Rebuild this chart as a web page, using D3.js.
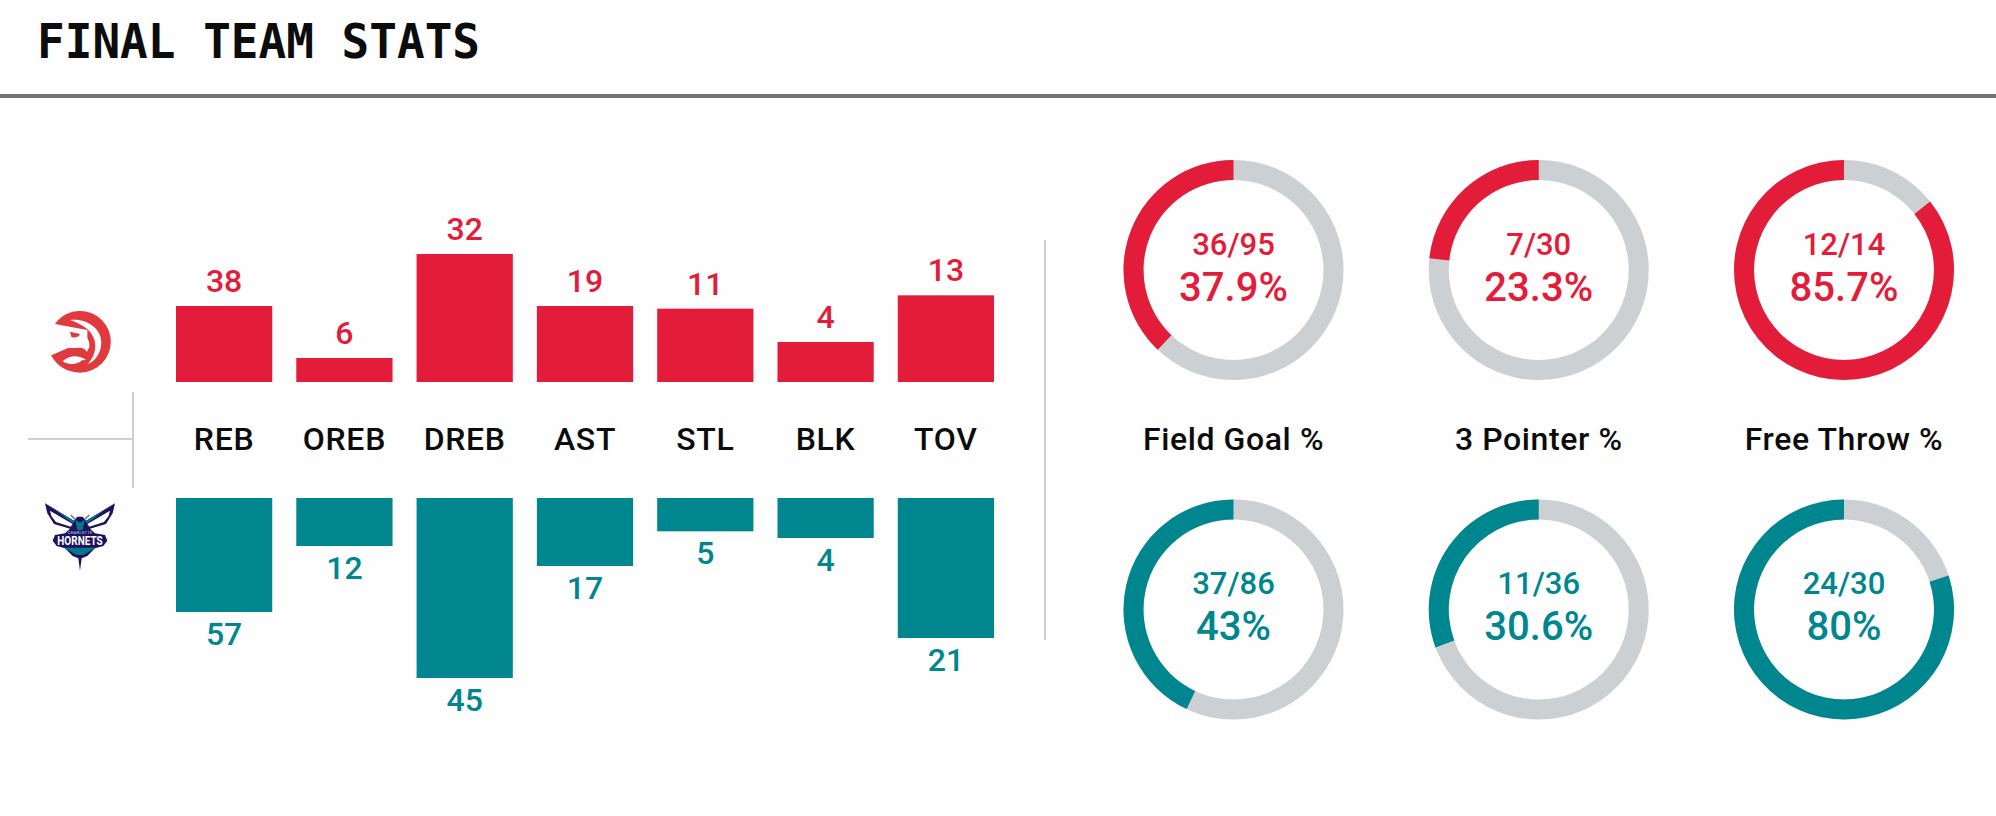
<!DOCTYPE html>
<html><head><meta charset="utf-8">
<script src="https://cdn.jsdelivr.net/npm/d3@7"></script>
<style>
html,body{margin:0;padding:0;background:#fefefe;overflow:hidden}
text{font-family:Roboto,sans-serif;font-weight:500}
</style></head><body>
<svg id="c" width="1996" height="816"></svg>
<script>
const titleText = "FINAL TEAM STATS";
const stats = ["REB","OREB","DREB","AST","STL","BLK","TOV"];
const statMax = [100,50,50,50,30,20,30];
const hawksStats = [38,6,32,19,11,4,13];
const hornetsStats = [57,12,45,17,5,4,21];
const shootingNames = ["Field Goal %","3 Pointer %","Free Throw %"];
const hawksMade = [36,7,12];
const hawksAttempts = [95,30,14];
const hawksPct = [37.9,23.3,85.7];
const hornetsMade = [37,11,24];
const hornetsAttempts = [86,36,30];
const hornetsPct = [43,30.6,80];

const RED="#e31c3a", TEAL="#00868f", GREY="#cdd0d3", INK="#0c0c0c";
const svg=d3.select("#c");

// header
svg.append("text").text(titleText)
  .attr("transform","translate(37,58) scale(1,1.05)")
  .attr("fill",INK)
  .style("font-family","'DejaVu Sans Mono'").style("font-weight",700)
  .style("font-size","46px");
svg.append("rect").attr("x",0).attr("y",94).attr("width",1996).attr("height",4).attr("fill","#66757d");

// bars
const x=d3.scaleBand().domain(stats).range([176,994]).paddingInner(0.2).paddingOuter(0);
const hawksBase=382, hornetsBase=498;
const h=i=>d3.scaleLinear().domain([0,statMax[i]]).range([0,200]);

const upper=svg.append("g");
upper.selectAll("rect").data(hawksStats).join("rect")
  .attr("x",(d,i)=>x(stats[i])).attr("width",x.bandwidth())
  .attr("y",(d,i)=>hawksBase-h(i)(d)).attr("height",(d,i)=>h(i)(d)).attr("fill",RED);
upper.selectAll("text").data(hawksStats).join("text")
  .text(d=>d).attr("text-anchor","middle").attr("fill",RED).style("font-size","32px")
  .attr("x",(d,i)=>x(stats[i])+x.bandwidth()/2).attr("y",(d,i)=>hawksBase-h(i)(d)-14);

const lower=svg.append("g");
lower.selectAll("rect").data(hornetsStats).join("rect")
  .attr("x",(d,i)=>x(stats[i])).attr("width",x.bandwidth())
  .attr("y",hornetsBase).attr("height",(d,i)=>h(i)(d)).attr("fill",TEAL);
lower.selectAll("text").data(hornetsStats).join("text")
  .text(d=>d).attr("text-anchor","middle").attr("fill",TEAL).style("font-size","32px")
  .attr("x",(d,i)=>x(stats[i])+x.bandwidth()/2).attr("y",(d,i)=>hornetsBase+h(i)(d)+33);

svg.append("g").selectAll("text").data(stats).join("text")
  .text(d=>d).attr("text-anchor","middle").attr("fill",INK).style("font-size","32px").style("letter-spacing","0.7px")
  .attr("x",d=>x(d)+x.bandwidth()/2).attr("y",450);

// dividers
const rule=(a,b,c,d)=>svg.append("rect").attr("x",a).attr("y",b).attr("width",c).attr("height",d).attr("fill",GREY);
rule(28,438,104,2);
rule(132,392,2,96);
rule(1044,240,2,400);

// donuts
const cx=d3.scalePoint().domain(shootingNames).range([1233.5,1844]);
const ang=d3.scaleLinear().domain([0,100]).range([0,-2*Math.PI]);
const arc=d3.arc().innerRadius(90).outerRadius(110).startAngle(0);
function donuts(cy,pct,made,att,col){
  const g=svg.append("g");
  pct.forEach((p,i)=>{
    const n=shootingNames[i];
    const d=g.append("g").attr("transform",`translate(${cx(n)},${cy})`);
    d.append("path").attr("d",arc({endAngle:-2*Math.PI})).attr("fill",GREY);
    d.append("path").attr("d",arc({endAngle:ang(p)})).attr("fill",col);
    d.append("text").text(made[i]+"/"+att[i]).attr("text-anchor","middle").attr("y",-15.5).attr("fill",col).style("font-size","31px");
    d.append("text").text(p+"%").attr("text-anchor","middle").attr("y",30.5).attr("fill",col).style("font-size","40px");
  });
}
donuts(270,hawksPct,hawksMade,hawksAttempts,RED);
donuts(609.5,hornetsPct,hornetsMade,hornetsAttempts,TEAL);
svg.append("g").selectAll("text").data(shootingNames).join("text")
  .text(d=>d).attr("text-anchor","middle").attr("fill",INK).style("font-size","32px").style("letter-spacing","0.6px")
  .attr("x",d=>cx(d)).attr("y",450);

// Hawks logo
const hk=svg.append("g").attr("transform","translate(0,250) scale(0.3333)");
const HK="#e03a3e", BG="#fefefe";
hk.append("path").attr("fill",HK).attr("d","M165,222 C182,197 210,183 240,183 A92.5,92.5 0 1 1 240,368 C203,368 170,348 153,316 L205,293 L262,292 L262,240 Z");
hk.append("path").attr("fill",BG).attr("d","M210,210 C262,204 304,238 304,276 C304,310 285,334 262,343 C280,325 290,300 284,272 C276,240 245,222 210,210 Z");
hk.append("path").attr("fill",BG).attr("d","M165,222 L238,246 C262,256 270,272 268,292 L260,306 C258,298 250,293 238,293 C225,293 212,295 205,293 L153,316 L120,270 Z");
hk.append("path").attr("fill",HK).attr("d","M210,245 L240,252 C236,262 222,266 214,260 Z");
hk.append("path").attr("fill",BG).attr("d","M188,334 C208,316 235,314 258,330 L246,331 C232,345 205,346 188,334 Z");

// Hornets logo
const hn=svg.append("g").attr("transform","translate(0,250) scale(0.3333)");
const NV="#1d1160", TL="#00788c";
hn.append("path").attr("fill",NV).attr("d","M135,760 L222,812 L232,800 L248,800 L258,812 L345,760 L338,790 L318,822 L270,836 L285,850 L315,855 L322,872 L310,888 L285,895 L262,918 L245,925 L240,962 L235,925 L218,918 L195,895 L170,888 L158,872 L165,855 L195,850 L210,836 L162,822 L142,790 Z");
hn.append("path").attr("fill","#fff").attr("d","M150,782 L218,822 L212,830 L168,816 L154,798 Z M330,782 L262,822 L268,830 L312,816 L326,798 Z");
hn.append("path").attr("fill",TL).attr("d","M155,772 L224,814 L218,820 Z M325,772 L256,814 L262,820 Z M226,810 L240,818 L254,810 L248,840 L232,840 Z M192,893 L288,893 L250,915 L230,915 Z");
hn.append("path").attr("stroke","#6a6f85").attr("stroke-width",4).attr("fill","none").attr("d","M226,808 L212,795 M254,808 L268,795");
hn.append("text").text("HORNETS").attr("x",240).attr("y",884).attr("text-anchor","middle").attr("fill","#fff")
  .style("font-size","36px").style("font-weight",700).attr("textLength",136).attr("lengthAdjust","spacingAndGlyphs");
hn.append("text").text("CHARLOTTE").attr("x",240).attr("y",853).attr("text-anchor","middle").attr("fill","#9fd6dc")
  .style("font-size","11px").attr("textLength",72);
</script>
</body></html>
